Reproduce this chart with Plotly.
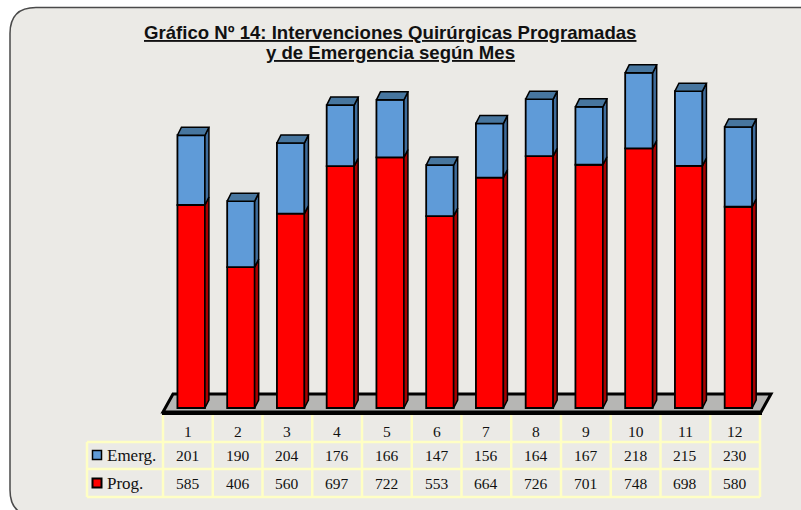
import plotly.graph_objects as go

months = [1, 2, 3, 4, 5, 6, 7, 8, 9, 10, 11, 12]
emerg = [201, 190, 204, 176, 166, 147, 156, 164, 167, 218, 215, 230]
prog = [585, 406, 560, 697, 722, 553, 664, 726, 701, 748, 698, 580]
title_lines = ["Gráfico Nº 14: Intervenciones Quirúrgicas Programadas",
               "y de Emergencia según Mes"]
row_names = ["Emerg.", "Prog."]

W, H = 801, 510
COL = 49.75           # px per month column
PX_PER_UNIT = 0.347   # px per value unit
X0_PX, Y0_PX = 163, 408  # left table edge, chart baseline

def dx(px):  # pixel length -> x units
    return px / COL
def dy(px):  # pixel length -> y units
    return px / PX_PER_UNIT
def X(px):
    return 0.5 + (px - X0_PX) / COL
def Y(py):
    return (Y0_PX - py) / PX_PER_UNIT

BAR_W = 27.5 / COL
SHIFT = dx(3.3)
DX, DY = dx(4), dy(8)

BLUE, BLUE_TOP, BLUE_SIDE = "#5F9BD8", "#47769F", "#3F6C9B"
RED, RED_SIDE = "#FF0000", "#A80000"
LINE = "#000000"
TBL = "#FFFFC4"

fig = go.Figure()

bar_line = dict(color=LINE, width=1.8)
fig.add_trace(go.Bar(x=months, y=prog, width=BAR_W, offset=SHIFT - BAR_W / 2,
                     marker=dict(color=RED, line=bar_line), showlegend=False))
fig.add_trace(go.Bar(x=months, y=emerg, base=prog, width=BAR_W, offset=SHIFT - BAR_W / 2,
                     marker=dict(color=BLUE, line=bar_line), showlegend=False))

def faces(x_vals, lows, highs):
    xs, ys = [], []
    for m, lo, hi in zip(x_vals, lows, highs):
        r = m + SHIFT + BAR_W / 2
        xs += [r, r + DX, r + DX, r, r, None]
        ys += [lo, lo + DY, hi + DY, hi, lo, None]
    return xs, ys

def tops(x_vals, highs):
    xs, ys = [], []
    for m, hi in zip(x_vals, highs):
        l, r = m + SHIFT - BAR_W / 2, m + SHIFT + BAR_W / 2
        xs += [l, r, r + DX, l + DX, l, None]
        ys += [hi, hi, hi + DY, hi + DY, hi, None]
    return xs, ys

totals = [p + e for p, e in zip(prog, emerg)]
for (xs, ys), col in [
    (faces(months, [0] * 12, prog), RED_SIDE),
    (faces(months, prog, totals), BLUE_SIDE),
    (tops(months, totals), BLUE_TOP),
]:
    fig.add_trace(go.Scatter(x=xs, y=ys, mode="lines", fill="toself", fillcolor=col,
                             line=dict(color=LINE, width=1.5), hoverinfo="skip", showlegend=False))

# legend keys in table
fig.add_trace(go.Scatter(x=[X(97)], y=[Y(455)], mode="markers", showlegend=False, hoverinfo="skip",
                         marker=dict(symbol="square", size=9, color=BLUE, line=dict(color=LINE, width=1.5))))
fig.add_trace(go.Scatter(x=[X(97)], y=[Y(483)], mode="markers", showlegend=False, hoverinfo="skip",
                         marker=dict(symbol="square", size=9, color=RED, line=dict(color=LINE, width=2))))

shapes = []
L, T, R, B, C = 10, 7.5, 830, 516, 26
def P(x, y):
    return f"{X(x):.4f},{Y(y):.2f}"
panel = (f"M {P(L, T + C)} Q {P(L, T)} {P(L + C, T)} L {P(R, T)} L {P(R, B)} "
         f"L {P(L + C, B)} Q {P(L, B)} {P(L, B - C)} Z")
shapes.append(dict(type="path", path=panel, xref="x", yref="y", layer="below",
                   fillcolor="#EBEAE6", line=dict(color="#4A4A4A", width=1.5)))
floor = f"M {P(163, 412)} L {P(761, 412)} L {P(771, 394)} L {P(173, 394)} Z"
shapes.append(dict(type="path", path=floor, xref="x", yref="y", layer="below",
                   fillcolor="#B6B6B4", line=dict(color="#000000", width=3)))
shapes.append(dict(type="line", xref="x", yref="y", layer="below", x0=X(162), x1=X(762), y0=Y(413), y1=Y(413),
                   line=dict(color="#000000", width=4)))
def tline(x0, y0, x1, y1):
    shapes.append(dict(type="line", xref="x", yref="y", layer="below",
                       x0=X(x0), x1=X(x1), y0=Y(y0), y1=Y(y1), line=dict(color=TBL, width=2.5)))
for i in range(13):
    px = X0_PX + i * COL
    tline(px, 415, px, 497)
for py in (442, 469, 497):
    tline(87, py, X0_PX + 12 * COL, py)
tline(87, 442, 87, 497)

anns = []
def txt(x, py, s, anchor="center", size=15.5):
    anns.append(dict(x=x, y=Y(py), xref="x", yref="y", text=s, showarrow=False, xanchor=anchor, yanchor="middle",
                     font=dict(family="Liberation Serif", size=size, color="#111111")))
for i, m in enumerate(months):
    txt(m, 431, str(m))
    txt(m, 455, str(emerg[i]))
    txt(m, 483, str(prog[i]))
txt(X(105), 455, row_names[0], anchor="left", size=17)
txt(X(105), 483, row_names[1], anchor="left", size=17)

for py, line in zip((32, 52), title_lines):
    anns.append(dict(x=X(390), y=Y(py), xref="x", yref="y", text=f"<b><u>{line}</u></b>", showarrow=False,
                     xanchor="center", yanchor="middle",
                     font=dict(family="Liberation Sans", size=18.6, color="#111111")))

fig.update_layout(
    width=W, height=H, margin=dict(l=0, r=0, t=0, b=0), autosize=False,
    paper_bgcolor="#FFFFFF", plot_bgcolor="rgba(0,0,0,0)",
    barmode="overlay", shapes=shapes, annotations=anns, showlegend=False,
    xaxis=dict(range=[X(0), X(W)], visible=False, fixedrange=True),
    yaxis=dict(range=[Y(H), Y(0)], visible=False, fixedrange=True),
)
fig.write_html("out.html", config={"displayModeBar": False},
               post_script="document.body.style.margin='0';document.body.style.overflow='hidden';")
